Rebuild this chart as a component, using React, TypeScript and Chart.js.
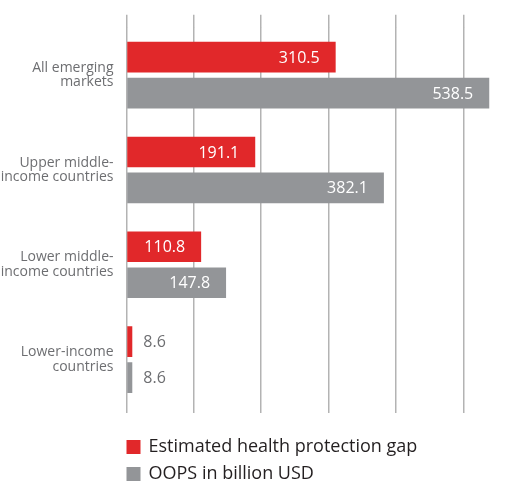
import { useEffect, useRef } from 'react';
import { Chart, registerables } from 'chart.js';

Chart.register(...registerables);

// Income groups shown on the vertical axis (two-line labels)
const categories: string[][] = [
  ['All emerging', 'markets'],
  ['Upper middle-', 'income countries'],
  ['Lower middle-', 'income countries'],
  ['Lower-income', 'countries'],
];

// Values in billion USD
const protectionGap = [310.5, 191.1, 110.8, 8.6];
const oopsValues = [538.5, 382.1, 147.8, 8.6];

const seriesNames = ['Estimated health protection gap', 'OOPS in billion USD'];

// Vertical guide lines along the value axis
const gridTicks = [0, 100, 200, 300, 400, 500];

const RED = '#e1282a';
const GREY = '#939598';
const FONT = "'Open Sans', 'Noto Sans', sans-serif";

const valueLabels = {
  id: 'valueLabels',
  afterDatasetsDraw(chart: any) {
    const ctx = chart.ctx;
    ctx.save();
    ctx.font = `16px ${FONT}`;
    ctx.textBaseline = 'middle';
    chart.data.datasets.forEach((ds: any, di: number) => {
      const meta = chart.getDatasetMeta(di);
      meta.data.forEach((bar: any, i: number) => {
        const v = ds.data[i] as number;
        const text = v.toFixed(1);
        if (v >= 50) {
          ctx.fillStyle = '#ffffff';
          ctx.textAlign = 'right';
          ctx.fillText(text, bar.x - 16, bar.y + 1);
        } else {
          ctx.fillStyle = '#6d6e71';
          ctx.textAlign = 'left';
          ctx.fillText(text, bar.x + 11, bar.y + 1);
        }
      });
    });
    ctx.restore();
  },
};

const stackedLegend = {
  id: 'stackedLegend',
  afterDraw(chart: any) {
    const ctx = chart.ctx;
    const { left, bottom } = chart.chartArea;
    ctx.save();
    ctx.font = `18px ${FONT}`;
    ctx.textBaseline = 'middle';
    ctx.textAlign = 'left';
    chart.data.datasets.forEach((ds: any, di: number) => {
      const top = bottom + 33 + di * 27;
      ctx.fillStyle = ds.backgroundColor;
      ctx.fillRect(left, top, 14, 14);
      ctx.fillStyle = '#231f20';
      ctx.fillText(ds.label, left + 22, top + 7);
    });
    ctx.restore();
  },
};

export default function App() {
  const canvasRef = useRef<HTMLCanvasElement | null>(null);

  useEffect(() => {
    if (!canvasRef.current) return;
    const setGridTicks = (scale: any) => {
      scale.ticks = gridTicks.map((v) => ({ value: v }));
    };
    const chart = new Chart(canvasRef.current, {
      type: 'bar',
      data: {
        labels: categories,
        datasets: [
          {
            label: seriesNames[0],
            data: protectionGap,
            backgroundColor: RED,
            categoryPercentage: 0.758,
            barPercentage: 0.853,
          },
          {
            label: seriesNames[1],
            data: oopsValues,
            backgroundColor: GREY,
            categoryPercentage: 0.758,
            barPercentage: 0.853,
          },
        ],
      },
      options: {
        indexAxis: 'y',
        animation: false,
        responsive: true,
        maintainAspectRatio: false,
        layout: { padding: { top: 14, right: 34, bottom: 71, left: 0 } },
        plugins: {
          legend: { display: false },
          tooltip: { enabled: false },
        },
        scales: {
          x: {
            position: 'bottom',
            min: 0,
            max: 550,
            afterBuildTicks: setGridTicks,
            ticks: { display: false },
            border: { display: false },
            grid: { color: '#b3b3b3', lineWidth: 1.5, tickLength: 6, drawTicks: true },
          },
          x2: {
            type: 'linear',
            position: 'top',
            min: 0,
            max: 550,
            afterBuildTicks: setGridTicks,
            ticks: { display: false },
            border: { display: false },
            grid: {
              color: '#b3b3b3',
              lineWidth: 1.5,
              tickLength: 13,
              drawTicks: true,
              drawOnChartArea: false,
            },
          },
          y: {
            afterFit: (scale: any) => {
              scale.width = 126.5;
            },
            border: { display: false },
            grid: { display: false, drawTicks: false },
            ticks: {
              padding: 13,
              color: '#6d6e71',
              font: { family: FONT, size: 14, lineHeight: 1.05 },
            },
          },
        },
      },
      plugins: [valueLabels, stackedLegend],
    });
    return () => chart.destroy();
  }, []);

  return (
    <div style={{ position: 'absolute', left: 0, top: 0, width: 531, height: 484 }}>
      <canvas ref={canvasRef} style={{ display: 'block' }} />
    </div>
  );
}
